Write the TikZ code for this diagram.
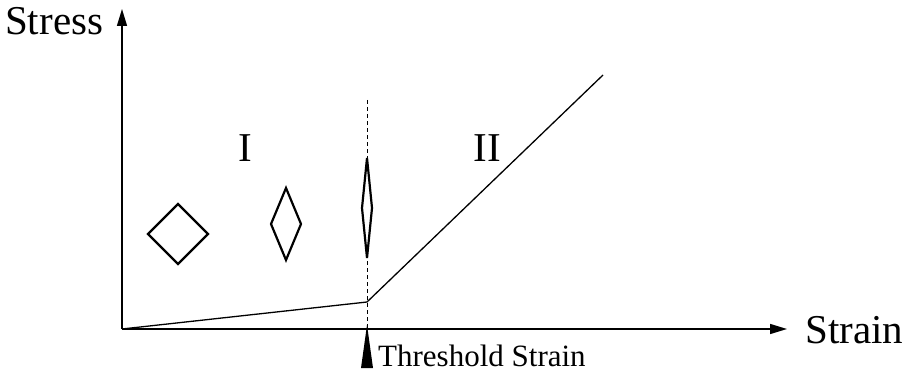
\documentclass[tikz,border=0pt]{standalone}
\usepackage{fontspec}
\setmainfont{Liberation Serif}
\usetikzlibrary{arrows.meta}
\begin{document}
\begin{tikzpicture}[x=1pt,y=-1pt,
  axis/.style={line width=1.4pt,-{Triangle[length=17pt,width=10pt]}},
  curve/.style={line width=1.3pt},
  dia/.style={line width=2.2pt,line join=miter},
  big/.style={font=\fontsize{41}{45}\selectfont,inner sep=0pt},
  small/.style={font=\fontsize{31}{34}\selectfont,inner sep=0pt}]
\useasboundingbox (0,0) rectangle (909,377);
\coordinate (O) at (122,329);
\coordinate (ytip) at (122,9);
\coordinate (xtip) at (787,329);
\coordinate (K) at (367,302);
\coordinate (E) at (603,75);
\coordinate (dtop) at (367,100);
\coordinate (dbot) at (367,329);
\draw[axis] (O) -- (ytip);
\draw[axis] (O) -- (xtip);
\draw[line width=1pt,dash pattern=on 4pt off 3pt] (dtop) -- (dbot);
\draw[curve] (O) -- (K) -- (E);
\node[big,anchor=base west] (stress) at (5,35) {Stress};
\node[big,anchor=base west] (strain) at (805,343) {Strain};
\node[big,anchor=base] (one) at (245,161) {I};
\node[big,anchor=base] (two) at (487,161) {II};
\node[small,anchor=base west] (thr) at (378,366) {Threshold Strain};
\fill (361,368) -- (367,325) -- (373,368) -- cycle;
\draw[dia,fill=white] (148,234) -- (178,204) -- (208,234) -- (178,264) -- cycle;
\draw[dia,fill=white] (271,224) -- (286,188) -- (301,224) -- (286,260) -- cycle;
\draw[dia,fill=white] (362,208) -- (367,158) -- (372,208) -- (367,258) -- cycle;
\end{tikzpicture}
\end{document}
